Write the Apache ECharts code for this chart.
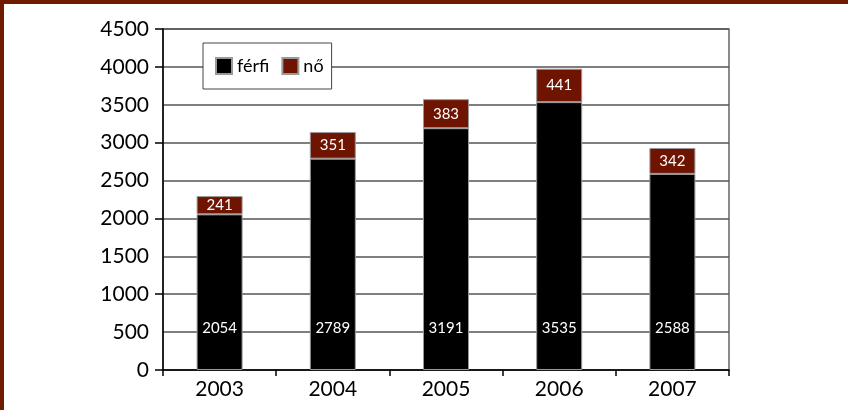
<!DOCTYPE html>
<html>
<head>
<meta charset="utf-8">
<script src="https://cdn.jsdelivr.net/npm/echarts@6/dist/echarts.min.js"></script>
<style>
  html, body { margin: 0; padding: 0; background: #fff; }
  #frame { position: absolute; left: 0; top: 0; width: 848px; height: 410px; box-sizing: border-box;
           border-top: 4px solid #701800; border-left: 4px solid #701800; }
  #chart { position: absolute; left: 0; top: 0; width: 848px; height: 410px; }
</style>
</head>
<body>
<div id="chart"></div>
<div id="frame"></div>
<script>
// Yearly counts, split by sex
const years = ['2003', '2004', '2005', '2006', '2007'];
const ferfi = [2054, 2789, 3191, 3535, 2588];
const no = [241, 351, 383, 441, 342];
const seriesNames = ['férfi', 'nő'];

const FONT = 'Lato, "Noto Sans", sans-serif';
const chart = echarts.init(document.getElementById('chart'), null, { renderer: 'canvas' });

chart.setOption({
  animation: false,
  backgroundColor: '#fff',
  grid: {
    left: 163, right: 119, top: 29, bottom: 40,
    show: true, borderColor: '#666', borderWidth: 1.5, backgroundColor: 'transparent'
  },
  legend: {
    left: 203, top: 43,
    padding: [14, 8, 14, 12],
    itemWidth: 16, itemHeight: 16, itemGap: 12,
    backgroundColor: '#fff', borderColor: '#444', borderWidth: 1,
    icon: 'rect',
    textStyle: { fontFamily: FONT, fontSize: 18, color: '#000' },
    data: seriesNames
  },
  xAxis: {
    type: 'category',
    data: years,
    axisLine: { lineStyle: { color: '#000', width: 1.5 } },
    axisTick: { show: true, length: 6, alignWithLabel: false, lineStyle: { color: '#000', width: 1.5 } },
    axisLabel: { fontFamily: FONT, fontSize: 21, color: '#000', margin: 9 },
    splitLine: { show: false }
  },
  yAxis: [
    {
      type: 'value',
      min: 0, max: 4500, interval: 500,
      axisLine: { show: true, lineStyle: { color: '#000', width: 1.5 } },
      axisTick: { show: false },
      axisLabel: { fontFamily: FONT, fontSize: 21, color: '#000', margin: 14, formatter: v => String(v) },
      splitLine: { show: true, lineStyle: { color: '#555', width: 1.5 } }
    },
    {
      // outward tick marks every 1000 on the left edge
      type: 'value', position: 'left',
      min: 0, max: 4500, interval: 1000,
      axisLine: { show: false },
      axisTick: { show: true, length: 8, lineStyle: { color: '#000', width: 1.5 } },
      axisLabel: { show: false },
      splitLine: { show: false }
    }
  ],
  series: [
    {
      name: seriesNames[0],
      type: 'bar',
      stack: 'total',
      barWidth: 46,
      data: ferfi,
      itemStyle: { color: '#000', borderColor: '#999', borderWidth: 1 },
      label: {
        show: true, position: 'insideBottom', distance: 34,
        color: '#fff', fontFamily: FONT, fontSize: 15
      }
    },
    {
      name: seriesNames[1],
      type: 'bar',
      stack: 'total',
      barWidth: 46,
      data: no,
      itemStyle: { color: '#6e1400', borderColor: '#999', borderWidth: 1 },
      label: {
        show: true, position: 'inside',
        color: '#fff', fontFamily: FONT, fontSize: 15
      }
    }
  ]
});
</script>
</body>
</html>
